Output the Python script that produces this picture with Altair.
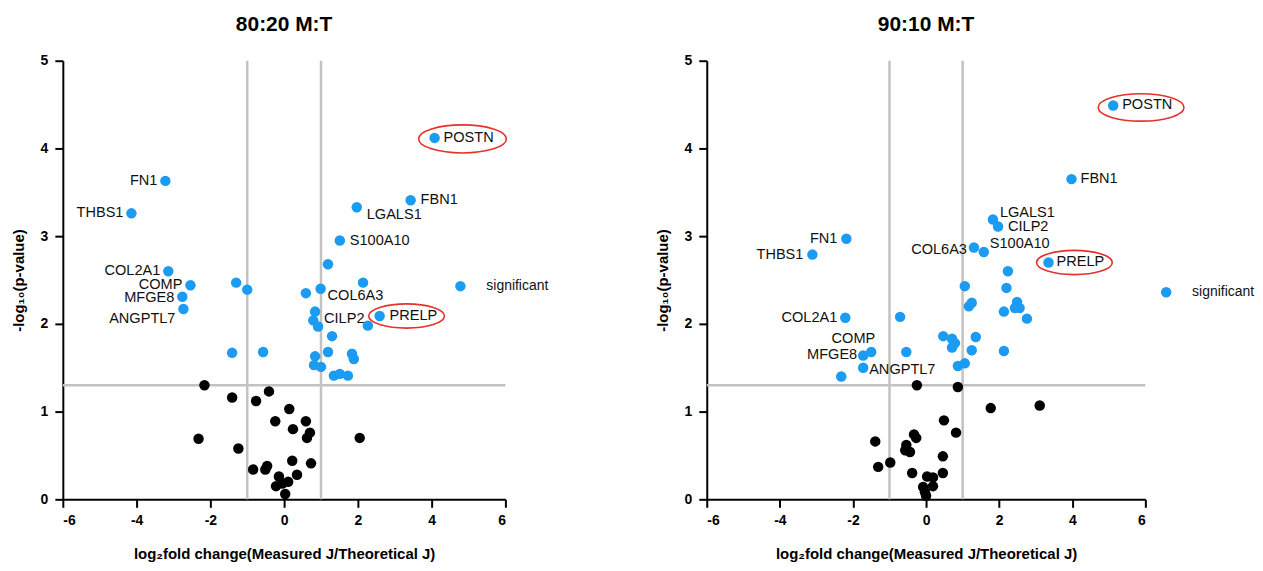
import altair as alt
import pandas as pd

FONT = "Liberation Sans"
BLUE = "#1B9BF2"
GRAY = "#C2C2C2"
RED = "#E8302C"

XTITLE = "log₂fold change(Measured J/Theoretical J)"
YTITLE = "-log₁₀(p-value)"
X_TICKS = [-6, -4, -2, 0, 2, 4, 6]
Y_TICKS = [0, 1, 2, 3, 4, 5]
FC_LINES = [-1, 1]
P_LINE = 1.301

# ---------------- 80:20 M:T ----------------
L_sig_gene = ["POSTN", "FBN1", "LGALS1", "S100A10", "FN1", "THBS1", "COL2A1", "COMP",
              "MFGE8", "ANGPTL7", "PRELP", "COL6A3", "CILP2", "significant",
              "", "", "", "", "", "", "", "", "", "", "", "", "", "", "", "", "", "", "", ""]
L_sig_x = [4.08, 3.43, 1.97, 1.51, -3.22, -4.14, -3.14, -2.54,
           -2.76, -2.73, 2.59, 0.99, 0.84, 4.78,
           0.79, 0.92, 0.59, 1.19, 2.14, 2.27, 1.30, -1.30, -1.00, -1.41, -0.57, 0.84,
           1.19, 1.84, 1.89, 0.81, 1.00, 1.35, 1.51, 1.73]
L_sig_y = [4.12, 3.41, 3.33, 2.95, 3.63, 3.26, 2.60, 2.44,
           2.31, 2.17, 2.09, 2.40, 2.14, 2.43,
           2.04, 1.97, 2.35, 2.68, 2.47, 1.98, 1.86, 2.47, 2.39, 1.67, 1.68, 1.63,
           1.68, 1.66, 1.60, 1.53, 1.51, 1.41, 1.43, 1.41]
L_ns_x = [-2.16, -1.41, -0.76, -0.41, 0.14, -0.24, 0.59, 0.24, 0.70, 0.62, -2.32, 2.05,
          -1.24, -0.84, -0.51, -0.46, 0.22, 0.73, 0.35, -0.14, 0.11, -0.22, -0.05, 0.03]
L_ns_y = [1.30, 1.16, 1.12, 1.23, 1.03, 0.89, 0.89, 0.80, 0.76, 0.70, 0.69, 0.70,
          0.58, 0.34, 0.34, 0.38, 0.44, 0.41, 0.28, 0.26, 0.20, 0.15, 0.18, 0.06]

# label placement (gene: dx px, dy px, align)
L_labels = {"FN1": (-8, 0, "right"), "THBS1": (-8, 0, "right"), "COL2A1": (-8, 0, "right"),
            "COMP": (-8, 0, "right"), "MFGE8": (-8, 1, "right"), "ANGPTL7": (-8, 10, "right"),
            "POSTN": (9, 0, "left"), "FBN1": (10, 0, "left"), "LGALS1": (10, 8, "left"),
            "S100A10": (10, 0, "left"), "COL6A3": (7, 7, "left"), "CILP2": (9, 7, "left"),
            "PRELP": (10, 0, "left"), "significant": (26, 0, "left")}
# ellipse annotations (gene: dx px, dy px, width px)
L_ellipses = {"POSTN": (28, 1, 88), "PRELP": (27, 0, 76)}

# ---------------- 90:10 M:T ----------------
R_sig_gene = ["POSTN", "FBN1", "LGALS1", "CILP2", "COL6A3", "S100A10", "PRELP", "significant",
              "FN1", "THBS1", "COL2A1", "COMP", "MFGE8", "ANGPTL7",
              "", "", "", "", "", "", "", "", "", "", "", "", "", "", "", "", "", "", "", "", "", ""]
R_sig_x = [5.12, 3.98, 1.83, 1.97, 1.31, 1.58, 3.35, 6.57,
           -2.18, -3.11, -2.21, -1.50, -1.72, -1.72,
           2.24, 2.20, 1.06, 1.25, 1.17, 2.49, 2.56, 2.43, 2.13, 2.76, -0.71, 0.47,
           0.71, 0.79, 0.71, 1.36, 1.25, 2.13, -0.54, 0.87, 1.06, -2.32]
R_sig_y = [4.49, 3.65, 3.19, 3.11, 2.87, 2.82, 2.70, 2.36,
           2.97, 2.79, 2.07, 1.68, 1.64, 1.50,
           2.60, 2.41, 2.43, 2.24, 2.20, 2.25, 2.18, 2.18, 2.14, 2.06, 2.08, 1.86,
           1.83, 1.78, 1.73, 1.85, 1.70, 1.69, 1.68, 1.52, 1.55, 1.40]
R_ns_x = [-0.25, 0.87, 1.77, 3.11, 0.49, 0.82, -0.33, -0.27, -1.39, -0.54, -0.57, -0.44,
          0.46, -0.98, -1.31, -0.38, 0.46, 0.03, 0.19, 0.19, -0.08, -0.03, 0.00]
R_ns_y = [1.30, 1.28, 1.04, 1.07, 0.90, 0.76, 0.74, 0.70, 0.66, 0.62, 0.56, 0.54,
          0.49, 0.42, 0.37, 0.30, 0.30, 0.26, 0.25, 0.15, 0.14, 0.08, 0.04]

R_labels = {"POSTN": (9, 0, "left"), "FBN1": (9, 0, "left"), "LGALS1": (7, -6, "left"),
            "CILP2": (10, 1, "left"), "S100A10": (6, -8, "left"), "COL6A3": (-7, 2, "right"),
            "PRELP": (8, 0, "left"), "significant": (26, 0, "left"), "FN1": (-9, 0, "right"),
            "THBS1": (-9, 0, "right"), "COL2A1": (-8, 0, "right"), "COMP": (4, -13, "right"),
            "MFGE8": (-6, 0, "right"), "ANGPTL7": (6, 2, "left")}
R_ellipses = {"POSTN": (28, 2, 86), "PRELP": (26, 0, 76)}

K = 0.5523
R = 0.32
ELLIPSE = (f"M -1 0 C -1 {-R*K:.4f} {-K:.4f} {-R} 0 {-R} "
           f"C {K:.4f} {-R} 1 {-R*K:.4f} 1 0 "
           f"C 1 {R*K:.4f} {K:.4f} {R} 0 {R} "
           f"C {-K:.4f} {R} -1 {R*K:.4f} -1 0 Z")

MINUS_FIX = "replace(datum.label, '\u2212', '-')"


def panel(title, genes, sx, sy, nx, ny, labels, ellipses, width):
    xs = alt.Scale(domain=[-6, 6], nice=False, zero=False)
    ys = alt.Scale(domain=[0, 5], nice=False, zero=False)
    X = alt.X("x:Q", scale=xs, axis=alt.Axis(values=X_TICKS, title=XTITLE, titlePadding=19,
                                             labelPadding=6, labelExpr=MINUS_FIX))
    Y = alt.Y("y:Q", scale=ys, axis=alt.Axis(values=Y_TICKS, title=YTITLE, titlePadding=14,
                                             labelPadding=7))

    sig = pd.DataFrame({"x": sx, "y": sy, "gene": genes})
    ns = pd.DataFrame({"x": nx, "y": ny})

    vr = alt.Chart(pd.DataFrame({"x": FC_LINES})).mark_rule(color=GRAY, strokeWidth=2.5).encode(x=X)
    hr = alt.Chart(pd.DataFrame({"y": [P_LINE]})).mark_rule(color=GRAY, strokeWidth=2.5).encode(y=Y)
    ns_pts = alt.Chart(ns).mark_circle(size=110, opacity=1, color="black").encode(x=X, y=Y)
    sig_pts = alt.Chart(sig).mark_circle(size=110, opacity=1, color=BLUE).encode(x=X, y=Y)

    layers = [vr, hr, ns_pts, sig_pts]
    groups = {}
    for g, place in labels.items():
        groups.setdefault(place, []).append(g)
    for (dx, dy, al), gl in groups.items():
        d = sig[sig["gene"].isin(gl)]
        fs = 14 if gl == ["significant"] else 14.6
        layers.append(
            alt.Chart(d).mark_text(align=al, baseline="middle", fontSize=fs, font=FONT,
                                   color="#111111", dx=dx, dy=dy)
            .encode(x=X, y=Y, text="gene:N")
        )
    for g, (dx, dy, w) in ellipses.items():
        d = sig[sig["gene"] == g]
        layers.append(
            alt.Chart(d).mark_point(shape=ELLIPSE, size=w * w, filled=False, stroke=RED,
                                    strokeWidth=1.6, opacity=1, xOffset=dx, yOffset=dy)
            .encode(x=X, y=Y)
        )
    return alt.layer(*layers).properties(
        width=width, height=440,
        title=alt.TitleParams(title, fontSize=21, font=FONT, fontWeight="bold",
                              anchor="middle", offset=19, color="black"))


left = panel("80:20 M:T", L_sig_gene, L_sig_x, L_sig_y, L_ns_x, L_ns_y, L_labels, L_ellipses, 444)
right = panel("90:10 M:T", R_sig_gene, R_sig_x, R_sig_y, R_ns_x, R_ns_y, R_labels, R_ellipses, 440)

chart = alt.hconcat(
    left, right, spacing=202, bounds="flush",
    padding={"left": 3, "top": 5, "right": 0, "bottom": 0}
).configure_view(
    stroke=None
).configure_axis(
    grid=False, domainColor="black", domainWidth=2, tickColor="black", tickWidth=2,
    tickSize=8, labelFontSize=14, labelFontWeight="bold", labelFont=FONT,
    labelColor="black", titleFontSize=15, titleFontWeight="bold", titleFont=FONT,
    titleColor="black"
)

chart.save("out.html", embed_options={"renderer": "svg", "actions": False})
